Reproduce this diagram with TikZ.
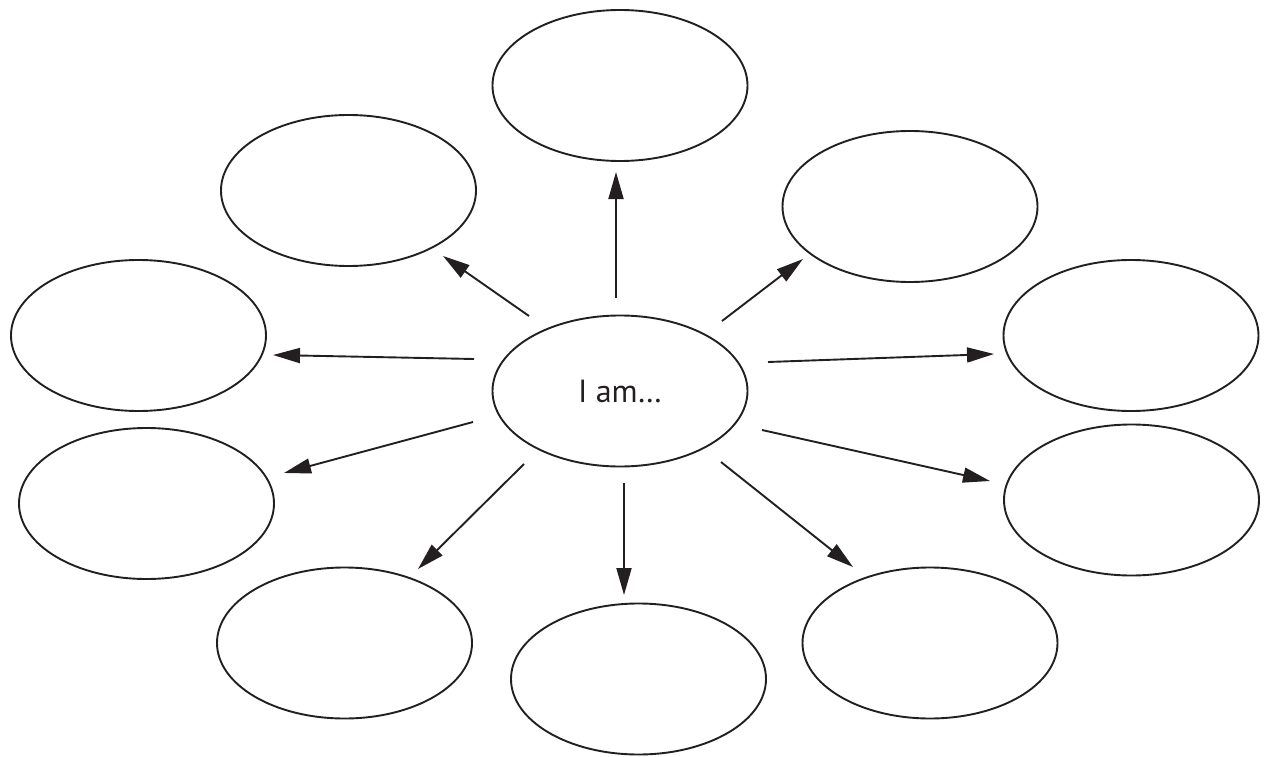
\documentclass[tikz,border=0pt]{standalone}
\usepackage{fontspec}
\setmainfont{PT Sans}
\usetikzlibrary{shapes.geometric,arrows.meta}
\definecolor{ink}{RGB}{35,31,32}
\begin{document}
\begin{tikzpicture}[x=1pt,y=-1pt,
  bubble/.style={draw=ink, line width=1.9pt, ellipse, minimum width=255pt, minimum height=151pt, inner sep=0pt},
  arr/.style={draw=ink, fill=ink, line width=1.9pt, -{Triangle[length=27pt,width=15pt]}}]
\useasboundingbox (0,0) rectangle (1264,757);
\node[bubble, text=ink, font=\fontsize{32}{38}\selectfont] (C) at (620,391) {I am…};
\node[bubble] (T)  at (620,85.5) {};
\node[bubble] (TL) at (348.5,190.5) {};
\node[bubble] (TR) at (910,206.5) {};
\node[bubble] (L)  at (138.5,335.5) {};
\node[bubble] (R)  at (1131,335.5) {};
\node[bubble] (LL) at (146.5,503.5) {};
\node[bubble] (LR) at (1131.5,500) {};
\node[bubble] (BL) at (344.5,643) {};
\node[bubble] (B)  at (638.5,679) {};
\node[bubble] (BR) at (930,643) {};
% arrow ends
\coordinate (uS) at (616,298);   \coordinate (uE) at (616,172);
\coordinate (ulS) at (529,316);  \coordinate (ulE) at (443,256);
\coordinate (urS) at (722,321);  \coordinate (urE) at (803,259);
\coordinate (lS) at (474,359);   \coordinate (lE) at (273,355);
\coordinate (rS) at (768,362);   \coordinate (rE) at (994,354);
\coordinate (llS) at (473,422);  \coordinate (llE) at (284,473);
\coordinate (lrS) at (762,430);  \coordinate (lrE) at (990,481);
\coordinate (blS) at (524,464);  \coordinate (blE) at (418,569);
\coordinate (bS) at (624,483);   \coordinate (bE) at (624,595);
\coordinate (brS) at (721,462);  \coordinate (brE) at (853,567);
\draw[arr] (uS) -- (uE);
\draw[arr] (ulS) -- (ulE);
\draw[arr] (urS) -- (urE);
\draw[arr] (lS) -- (lE);
\draw[arr] (rS) -- (rE);
\draw[arr] (llS) -- (llE);
\draw[arr] (lrS) -- (lrE);
\draw[arr] (blS) -- (blE);
\draw[arr] (bS) -- (bE);
\draw[arr] (brS) -- (brE);
\end{tikzpicture}
\end{document}
